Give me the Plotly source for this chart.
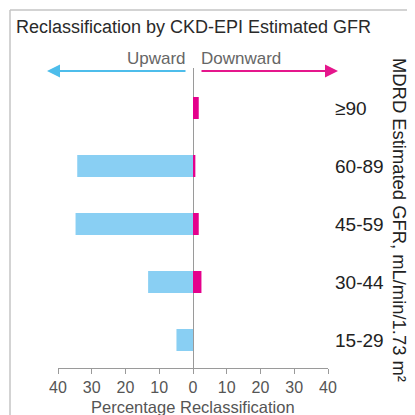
import plotly.graph_objects as go

categories = ["15-29", "30-44", "45-59", "60-89", "\u226590"]
upward = [4.9, 13.3, 34.8, 34.3, 0.0]
downward = [0.0, 2.5, 1.7, 0.7, 1.7]
tick_vals = [-40, -30, -20, -10, 0, 10, 20, 30, 40]
tick_text = ["40", "30", "20", "10", "0", "10", "20", "30", "40"]

FONT = "Liberation Sans, Arial, Helvetica, sans-serif"
CYAN_BAR = "#89CFF3"
MAG_BAR = "#E4008C"
CYAN_ARROW = "#4DBDEB"
MAG_ARROW = "#E5168C"

fig = go.Figure()
fig.add_trace(go.Bar(y=categories, x=[-v for v in upward], orientation="h",
                     marker=dict(color=CYAN_BAR, line=dict(width=0)), width=0.38,
                     name="Upward", showlegend=False))
fig.add_trace(go.Bar(y=categories, x=downward, orientation="h",
                     marker=dict(color=MAG_BAR, line=dict(width=0)), width=0.38,
                     name="Downward", showlegend=False))

OFF = 8  # page body margin
W, H = 415 - OFF, 415 - OFF
PL, PR, PT, PB = 58, 328, 68, 368  # plot area in window pixels
L, R, T, B = PL - OFF, W - (PR - OFF), PT - OFF, H - (PB - OFF)
pw, ph = PR - PL, PB - PT

def px2paperx(px):
    return (px - PL) / pw

def px2papery(py):
    return (PB - py) / ph

def px2datax(px):
    return (px - (PL + pw / 2)) / (pw / 80.0)

fig.update_layout(
    width=W, height=H,
    margin=dict(l=L, r=R, t=T, b=B),
    paper_bgcolor="white", plot_bgcolor="white",
    barmode="relative",
    font=dict(family=FONT, color="#333"),
    xaxis=dict(range=[-40, 40], tickvals=tick_vals, ticktext=tick_text,
               showgrid=False, zeroline=True, zerolinecolor="#9a9a9a", zerolinewidth=1,
               showline=True, linecolor="#9a9a9a", linewidth=1,
               ticks="outside", ticklen=5, tickcolor="#9a9a9a",
               tickfont=dict(size=16, color="#555", family=FONT), fixedrange=True),
    yaxis=dict(type="category", categoryorder="array", categoryarray=categories,
               range=[-0.483, 4.69], side="right", showgrid=False, zeroline=False,
               showline=False, ticks="", ticklabelstandoff=6,
               tickfont=dict(size=19, color="#222", family=FONT)),
)

shapes = [
    dict(type="line", xref="paper", yref="paper",
         x0=px2paperx(10), x1=px2paperx(430), y0=px2papery(10), y1=px2papery(10),
         line=dict(color="#c4c4c4", width=1.5)),
    dict(type="line", xref="paper", yref="paper",
         x0=px2paperx(10), x1=px2paperx(10), y0=px2papery(10), y1=px2papery(430),
         line=dict(color="#c4c4c4", width=1.5)),
]
fig.update_layout(shapes=shapes)

ann = []
ann.append(dict(text="Reclassification by CKD-EPI Estimated GFR", xref="paper", yref="paper",
                x=px2paperx(14), y=px2papery(27), xanchor="left", yanchor="middle",
                showarrow=False, font=dict(size=18, color="#2a2a2a", family=FONT)))
ann.append(dict(text="Upward", xref="x", yref="paper", x=px2datax(188), y=px2papery(59),
                xanchor="right", yanchor="middle", showarrow=False,
                font=dict(size=17, color="#666", family=FONT)))
ann.append(dict(text="Downward", xref="x", yref="paper", x=px2datax(199), y=px2papery(59),
                xanchor="left", yanchor="middle", showarrow=False,
                font=dict(size=17, color="#666", family=FONT)))
ann.append(dict(text="", xref="x", yref="paper", x=px2datax(47), y=px2papery(71),
                axref="x", ayref="pixel", ax=px2datax(187), ay=0,
                showarrow=True, arrowhead=2, arrowsize=1.3, arrowwidth=2, arrowcolor=CYAN_ARROW))
ann.append(dict(text="", xref="x", yref="paper", x=px2datax(338), y=px2papery(71),
                axref="x", ayref="pixel", ax=px2datax(200), ay=0,
                showarrow=True, arrowhead=2, arrowsize=1.3, arrowwidth=2, arrowcolor=MAG_ARROW))
ann.append(dict(text="MDRD Estimated GFR, mL/min/1.73 m\u00b2", xref="paper", yref="paper",
                x=px2paperx(399), y=px2papery(220), xanchor="center", yanchor="middle",
                textangle=90, showarrow=False, font=dict(size=18.4, color="#222", family=FONT)))
ann.append(dict(text="Percentage Reclassification", xref="paper", yref="paper",
                x=px2paperx(193), y=px2papery(407), xanchor="center", yanchor="middle",
                showarrow=False, font=dict(size=16.5, color="#555", family=FONT)))
fig.update_layout(annotations=ann)

fig.write_html("out.html")
